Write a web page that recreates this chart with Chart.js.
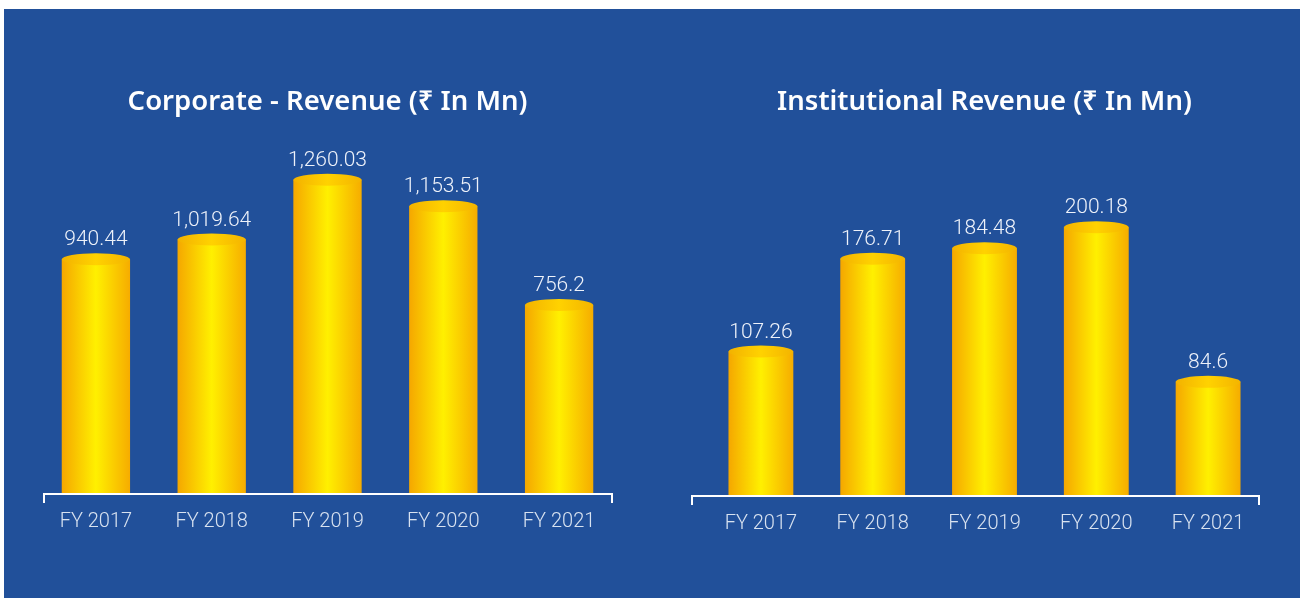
<!DOCTYPE html>
<html>
<head>
<meta charset="utf-8">
<script src="https://cdn.jsdelivr.net/npm/chart.js@4.4.1/dist/chart.umd.min.js"></script>
<style>
html, body { margin: 0; padding: 0; background: #fff; }
#panel { position: absolute; left: 4px; top: 9px; width: 1296px; height: 589px; background: #21509A; }
.box { position: absolute; top: 0; width: 651px; height: 599px; }
#leftBox { left: 0; }
#rightBox { left: 651px; }
</style>
</head>
<body>
<div id="panel"></div>
<div class="box" id="leftBox"><canvas id="corporateChart"></canvas></div>
<div class="box" id="rightBox"><canvas id="institutionalChart"></canvas></div>
<script>
const categories = ["FY 2017", "FY 2018", "FY 2019", "FY 2020", "FY 2021"];
const corporateRevenue = [940.44, 1019.64, 1260.03, 1153.51, 756.2];
const institutionalRevenue = [107.26, 176.71, 184.48, 200.18, 84.6];

function fmt(v) {
    return v.toLocaleString('en-US', { maximumFractionDigits: 2 });
}

// yellow cylinder body, darker at the sides
function bodyFill(c) {
    const chart = c.chart;
    const x = chart.scales && chart.scales.x;
    if (!chart.chartArea || !x) return '#FFD000';
    const cx = x.getPixelForValue(c.dataIndex);
    const half = x.width / categories.length * c.dataset.barPercentage / 2;
    const g = chart.ctx.createLinearGradient(cx - half, 0, cx + half, 0);
    g.addColorStop(0, '#F5A700');
    g.addColorStop(0.5, '#FFF000');
    g.addColorStop(1, '#F6AC00');
    return g;
}

// ellipse tops, value labels and the bracket-shaped axis line
const cylinderTops = {
    id: 'cylinderTops',
    afterDatasetsDraw(chart, args, opts) {
        const ctx = chart.ctx;
        const meta = chart.getDatasetMeta(0);
        const values = chart.data.datasets[0].data;
        ctx.save();
        meta.data.forEach((bar, i) => {
            const rx = bar.width / 2, ry = 6;
            const g = ctx.createLinearGradient(bar.x - rx, 0, bar.x + rx, 0);
            g.addColorStop(0, '#F3B200');
            g.addColorStop(0.5, '#FFD200');
            g.addColorStop(1, '#F4B400');
            ctx.fillStyle = g;
            ctx.beginPath();
            ctx.ellipse(bar.x, bar.y, rx, ry, 0, 0, Math.PI * 2);
            ctx.fill();
            ctx.fillStyle = '#EEF2FA';
            ctx.font = '300 21px Roboto, "Noto Sans", sans-serif';
            ctx.textAlign = 'center';
            ctx.textBaseline = 'alphabetic';
            ctx.fillText(fmt(values[i]), bar.x, bar.y - ry - 8);
        });
        const a = chart.chartArea;
        const y = a.bottom + 1;
        const l = a.left + opts.axisLeft, r = a.right - opts.axisRight;
        ctx.strokeStyle = '#FFFFFF';
        ctx.lineWidth = 2;
        ctx.beginPath();
        ctx.moveTo(l, y + 9);
        ctx.lineTo(l, y);
        ctx.lineTo(r, y);
        ctx.lineTo(r, y + 9);
        ctx.stroke();
        ctx.restore();
    }
};

function makeChart(id, title, values, yMax, barPct, pad, axisOffsets) {
    return new Chart(document.getElementById(id), {
        type: 'bar',
        data: {
            labels: categories,
            datasets: [{
                data: values,
                backgroundColor: bodyFill,
                borderWidth: 0,
                barPercentage: barPct,
                categoryPercentage: 1
            }]
        },
        options: {
            responsive: true,
            maintainAspectRatio: false,
            animation: false,
            layout: { padding: pad },
            plugins: {
                legend: { display: false },
                tooltip: { enabled: false },
                title: {
                    display: true,
                    text: title,
                    color: '#FFFFFF',
                    font: { family: '"Noto Sans", Roboto, sans-serif', size: 27.5, weight: '600', lineHeight: 1.2 },
                    padding: { top: 86, bottom: 31 }
                },
                cylinderTops: axisOffsets
            },
            scales: {
                x: {
                    grid: { display: false },
                    border: { display: false },
                    ticks: {
                        color: '#D8E2F0',
                        padding: 9,
                        font: { family: 'Roboto, "Noto Sans", sans-serif', size: 20, weight: '300' }
                    }
                },
                y: {
                    display: false,
                    min: 0,
                    max: yMax
                }
            }
        },
        plugins: [cylinderTops]
    });
}

makeChart('corporateChart', 'Corporate - Revenue (\u20B9 In Mn)', corporateRevenue, 1380, 0.59,
    { left: 38, right: 34, top: 0, bottom: 56 }, { axisLeft: 6, axisRight: 5 });
makeChart('institutionalChart', 'Institutional Revenue (\u20B9 In Mn)', institutionalRevenue, 258, 0.58,
    { left: 54, right: 38, top: 0, bottom: 54 }, { axisLeft: -13, axisRight: 5 });
</script>
</body>
</html>
